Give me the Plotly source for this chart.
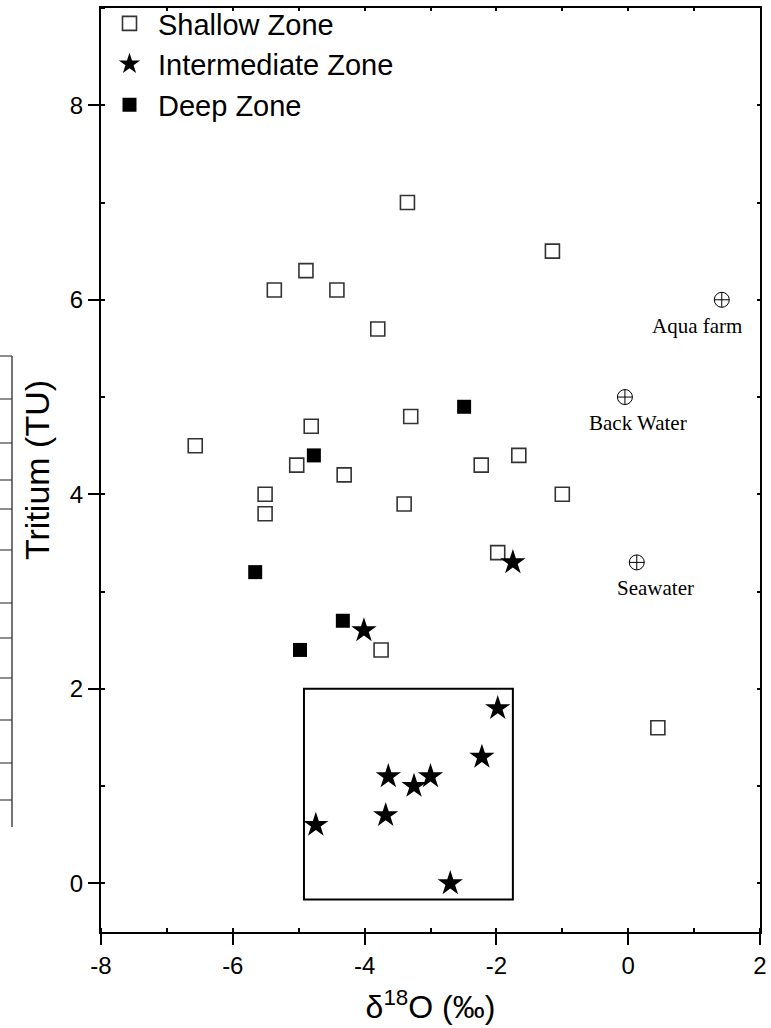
import plotly.graph_objects as go

# Shallow zone samples (delta 18O permil, tritium TU)
shallow_d18o = [-3.35, -1.15, -4.89, -5.37, -4.42, -3.80, -6.57, -4.81, -3.30, -5.03,
                -4.31, -2.23, -1.66, -1.00, -5.51, -5.51, -3.40, -1.98, -3.75, 0.45]
shallow_tritium = [7.0, 6.5, 6.3, 6.1, 6.1, 5.7, 4.5, 4.7, 4.8, 4.3,
                   4.2, 4.3, 4.4, 4.0, 4.0, 3.8, 3.9, 3.4, 2.4, 1.6]

# Intermediate zone samples
inter_d18o = [-1.75, -4.01, -1.98, -2.22, -3.64, -3.00, -3.25, -3.68, -4.74, -2.70]
inter_tritium = [3.3, 2.6, 1.8, 1.3, 1.1, 1.1, 1.0, 0.7, 0.6, 0.0]

# Deep zone samples
deep_d18o = [-2.49, -4.77, -5.66, -4.33, -4.98]
deep_tritium = [4.9, 4.4, 3.2, 2.7, 2.4]

# Surface water end-members
source_names = ["Aqua farm", "Back Water", "Seawater"]
source_d18o = [1.42, -0.05, 0.13]
source_tritium = [6.0, 5.0, 3.3]
source_label_dx = [-25, 13, 19]

# Outline of the low-tritium intermediate cluster
cluster_x = [-4.92, -1.75]
cluster_y = [-0.165, 2.0]

x_ticks = [-8, -6, -4, -2, 0, 2]
y_ticks = [0, 2, 4, 6, 8]

# Neighbouring table edge on the left (pixel rows)
table_rows_px = [356, 399, 443, 480, 509, 550, 603, 638, 678, 720, 763, 800]
table_top_px, table_bottom_px, table_right_px = 356, 827, 12

W, H = 771, 1028
ML, MR, MT, MB = 101, 11, 8, 96
PW, PH = W - ML - MR, H - MT - MB

SANS = "Arial, Liberation Sans, sans-serif"
SERIF = "Times New Roman, Liberation Serif, serif"

fig = go.Figure()

fig.add_trace(go.Scatter(
    x=shallow_d18o, y=shallow_tritium, mode="markers", name="Shallow Zone",
    marker=dict(symbol="square-open", size=14, color="#333333", line=dict(width=1.6)),
))
fig.add_trace(go.Scatter(
    x=inter_d18o, y=inter_tritium, mode="markers", name="Intermediate Zone",
    marker=dict(symbol="star", size=19, color="black", line=dict(width=0)),
))
fig.add_trace(go.Scatter(
    x=deep_d18o, y=deep_tritium, mode="markers", name="Deep Zone",
    marker=dict(symbol="square", size=14, color="black", line=dict(width=0)),
))
fig.add_trace(go.Scatter(
    x=source_d18o, y=source_tritium, mode="markers", showlegend=False,
    marker=dict(symbol="circle-cross-open", size=15, color="black", line=dict(width=1)),
))
# carrier for the mirrored top/right tick axes
fig.add_trace(go.Scatter(x=[None], y=[None], xaxis="x2", yaxis="y2",
                         showlegend=False, hoverinfo="skip"))

for name, xv, yv, dx in zip(source_names, source_d18o, source_tritium, source_label_dx):
    fig.add_annotation(x=xv, y=yv, text=name, showarrow=False, xshift=dx, yshift=-26,
                       font=dict(family=SERIF, size=21, color="black"))

fig.add_shape(type="rect", x0=cluster_x[0], x1=cluster_x[1], y0=cluster_y[0], y1=cluster_y[1],
              line=dict(color="black", width=2), fillcolor="rgba(0,0,0,0)")


def px_to_paper_x(px):
    return (px - ML) / PW


def px_to_paper_y(py):
    return 1 - (py - MT) / PH


fig.add_shape(type="line", xref="paper", yref="paper",
              x0=px_to_paper_x(table_right_px), x1=px_to_paper_x(table_right_px),
              y0=px_to_paper_y(table_top_px), y1=px_to_paper_y(table_bottom_px),
              line=dict(color="#444444", width=1.5))
for row in table_rows_px:
    fig.add_shape(type="line", xref="paper", yref="paper",
                  x0=px_to_paper_x(0), x1=px_to_paper_x(table_right_px),
                  y0=px_to_paper_y(row), y1=px_to_paper_y(row),
                  line=dict(color="#444444", width=1.2))

axis_common = dict(showgrid=False, zeroline=False, showline=True, linecolor="black",
                   linewidth=2, ticks="outside", ticklen=11, tickwidth=2, tickcolor="black",
                   mirror=True, automargin=False,
                   tickfont=dict(family=SANS, size=24, color="black"))

fig.update_layout(
    width=W, height=H,
    margin=dict(l=ML, r=MR, t=MT, b=MB, autoexpand=False),
    paper_bgcolor="white", plot_bgcolor="white",
    xaxis=dict(range=[-8, 2], tickvals=x_ticks, ticktext=[str(v) for v in x_ticks],
               minor=dict(dtick=1, ticks="inside", ticklen=4, tickwidth=2, tickcolor="black"),
               title=dict(text="δ<sup>18</sup>O (‰)", font=dict(family=SANS, size=32, color="black"),
                          standoff=18),
               **axis_common),
    yaxis=dict(range=[-0.5, 9], tickvals=y_ticks, ticktext=[str(v) for v in y_ticks],
               minor=dict(dtick=1, ticks="inside", ticklen=4, tickwidth=2, tickcolor="black"),
               title=dict(text="Tritium (TU)", font=dict(family=SANS, size=34, color="black"),
                          standoff=10),
               **axis_common),
    xaxis2=dict(overlaying="x", matches="x", side="top", anchor="y", showgrid=False,
                zeroline=False, showline=False, ticks="inside", ticklen=3, tickwidth=2,
                tickcolor="black", dtick=1, showticklabels=False, automargin=False),
    yaxis2=dict(overlaying="y", matches="y", side="right", anchor="x", showgrid=False,
                zeroline=False, showline=False, ticks="inside", ticklen=3, tickwidth=2,
                tickcolor="black", dtick=1, showticklabels=False, automargin=False),
    legend=dict(x=0, y=1 + 10 / PH, xanchor="left", yanchor="top", bgcolor="rgba(0,0,0,0)",
                font=dict(family=SANS, size=29, color="black"), tracegroupgap=0,
                itemsizing="trace", itemwidth=47),
    showlegend=True,
)

fig.write_html("out.html")
